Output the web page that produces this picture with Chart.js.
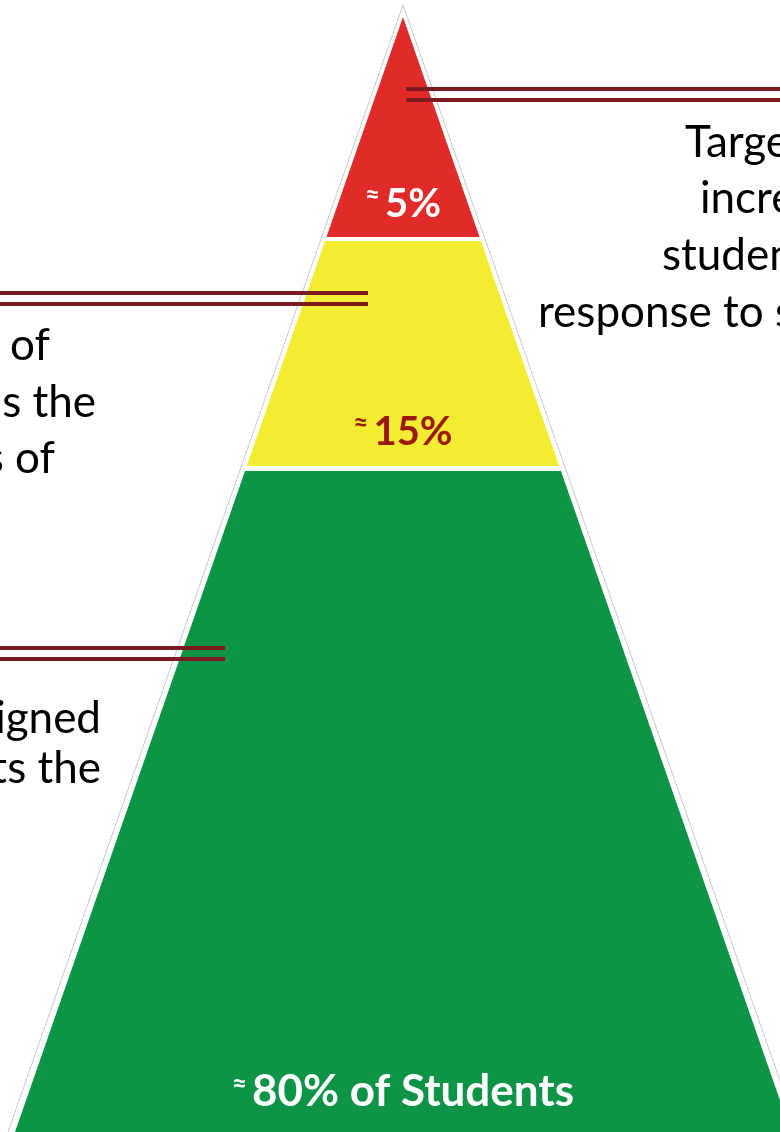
<!DOCTYPE html>
<html>
<head>
<meta charset="utf-8">
<script src="https://cdn.jsdelivr.net/npm/chart.js@4.4.1/dist/chart.umd.min.js"></script>
<style>
  html, body { margin: 0; padding: 0; background: #ffffff; overflow: hidden; }
  canvas { display: block; }
</style>
</head>
<body>
<canvas id="c" width="780" height="1132"></canvas>
<script>
// ---- data ----
const tierNames   = ['Tier 3', 'Tier 2', 'Tier 1'];
const tierShares  = [5, 15, 80];
const tierLabels  = ['5%', '15%', '80% of Students'];
const tierTop     = [0, 224, 454];      // depth where each tier starts (apex = 0)
const tierBottom  = [220, 449, 1140];   // depth where each tier ends
const labelDepth  = [200, 428, 1089];   // baseline depth of each tier label

const calloutDepth = [72, 276, 631];    // depth of the upper rule of each callout pair
const calloutFrom  = [3, -420, -420];   // horizontal extent of each callout
const calloutTo    = [400, -35, -178];

const noteRight = ['Targe', 'incre', 'studen', 'response to s'];
const noteMid   = ['of', 's the', 's of'];
const noteLow   = ['igned', 'ts the'];

// ---- styling / geometry constants ----
const SLOPE = 0.348;          // half-width per unit of depth
const tierColors = ['#e12b28', '#f3ec33', '#0e9447'];
const labelColors = ['#ffffff', '#9b1a0f', '#ffffff'];
const RULE = '#7b1a1f';

const datasets = [];

// callout rules (on top)
calloutDepth.forEach((d, i) => {
  [0, 11].forEach(off => {
    datasets.push({
      label: 'callout ' + tierNames[i],
      data: [{x: calloutFrom[i], y: d + off}, {x: calloutTo[i], y: d + off}],
      showLine: true, borderColor: RULE, borderWidth: 4, pointRadius: 0,
      fill: false, order: 1
    });
  });
});

// faint outer outline
const outlineApex = -12, outlineBottom = 1140, outlineSlope = 0.3505;
datasets.push({
  label: 'outline',
  data: [
    {x: -(outlineBottom - outlineApex) * outlineSlope, y: outlineBottom},
    {x: 0, y: outlineApex},
    {x: (outlineBottom - outlineApex) * outlineSlope, y: outlineBottom}
  ],
  showLine: true, borderColor: '#c9c9c9', borderWidth: 1, pointRadius: 0,
  fill: false, order: 2
});

// tiers: top edge polyline filled down to the tier bottom
tierNames.forEach((name, i) => {
  const t = tierTop[i], b = tierBottom[i];
  const pts = [{x: -b * SLOPE, y: b}, {x: -t * SLOPE, y: t}];
  if (t > 0) pts.push({x: t * SLOPE, y: t});
  pts.push({x: b * SLOPE, y: b});
  datasets.push({
    label: name + ' (' + tierShares[i] + '%)',
    data: pts,
    showLine: true, borderWidth: 0, borderColor: tierColors[i],
    backgroundColor: tierColors[i], pointRadius: 0,
    fill: {value: b}, order: 3
  });
});

const textPlugin = {
  id: 'pyramidText',
  afterDatasetsDraw(chart) {
    const ctx = chart.ctx;
    const xs = chart.scales.x, ys = chart.scales.y;
    ctx.save();
    // tier labels
    tierLabels.forEach((lab, i) => {
      const cx = xs.getPixelForValue(0);
      const by = ys.getPixelForValue(labelDepth[i]);
      const big = i === 2 ? '700 44px Lato' : '700 40px Lato';
      ctx.font = big;
      const w = ctx.measureText(lab).width;
      ctx.font = '700 26px Lato';
      const a = ctx.measureText('≈').width;
      const gap = 5;
      const start = cx - (a + gap + w) / 2;
      ctx.fillStyle = labelColors[i];
      ctx.textAlign = 'left';
      ctx.textBaseline = 'alphabetic';
      ctx.fillText('≈', start, by - 13);
      ctx.font = big;
      ctx.fillText(lab, start + a + gap, by);
    });
    // notes
    ctx.fillStyle = '#000000';
    ctx.font = '44px Lato';
    ctx.textAlign = 'left';
    const rx = [685, 700, 662, 538], ry = [157, 213, 270, 327];
    noteRight.forEach((s, i) => ctx.fillText(s, rx[i], ry[i]));
    ctx.textAlign = 'right';
    const mx = [50, 96, 55], my = [360, 417, 473];
    noteMid.forEach((s, i) => ctx.fillText(s, mx[i], my[i]));
    const lx = [101, 101], ly = [733, 783];
    noteLow.forEach((s, i) => ctx.fillText(s, lx[i], ly[i]));
    ctx.restore();
  }
};

new Chart(document.getElementById('c'), {
  type: 'scatter',
  data: { datasets },
  options: {
    responsive: false,
    animation: false,
    layout: { padding: 0 },
    plugins: { legend: { display: false }, tooltip: { enabled: false } },
    scales: {
      x: { type: 'linear', display: false, min: -403, max: 377 },
      y: { type: 'linear', display: false, reverse: true, min: -17, max: 1115 }
    },
    elements: { line: { tension: 0 } }
  },
  plugins: [textPlugin]
});
</script>
</body>
</html>
